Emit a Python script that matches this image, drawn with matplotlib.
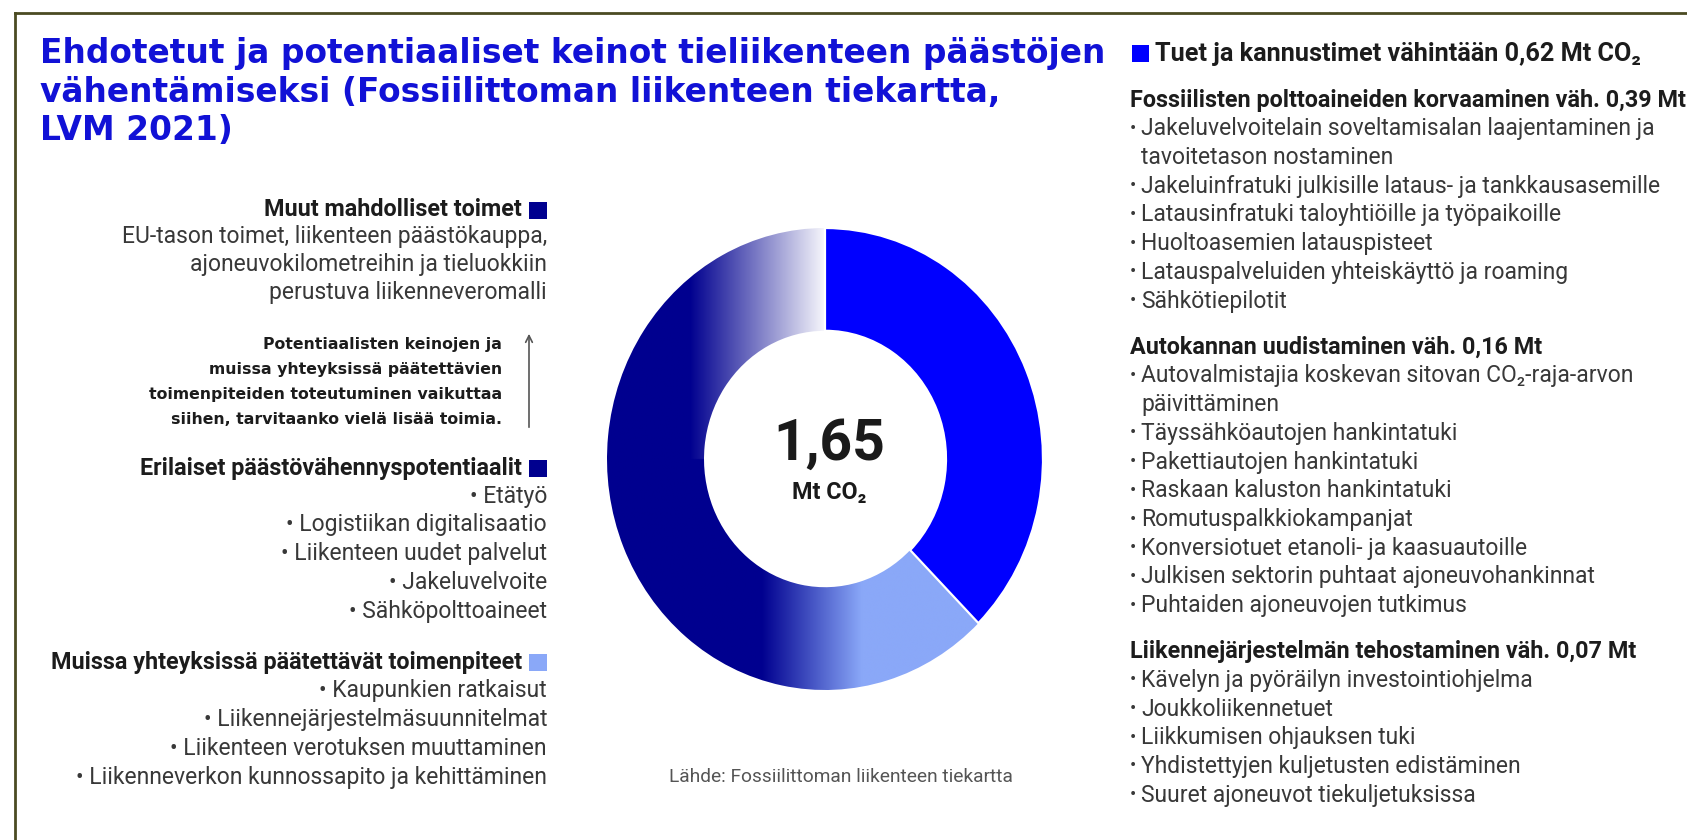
import matplotlib
matplotlib.use('Agg')
import matplotlib.pyplot as plt
import numpy as np
from matplotlib.lines import Line2D
from matplotlib.patches import Rectangle, FancyArrowPatch, Wedge

W, H, DPI = 1687, 840, 100

# ---------------- data ----------------
slice_labels = ['Tuet ja kannustimet', 'Muissa yhteyksissä päätettävät toimenpiteet',
                'Erilaiset päästövähennyspotentiaalit', 'Muut mahdolliset toimet']
slice_values = [0.62, 0.21, 0.74, 0.08]
slice_colors = ['#0000ff', '#8aa8f8', '#00008f', '#ffffff']
total_label = '1,65'
total_unit = 'Mt CO₂'

title_lines = ['Ehdotetut ja potentiaaliset keinot tieliikenteen päästöjen',
               'vähentämiseksi (Fossiilittoman liikenteen tiekartta,',
               'LVM 2021)']

right_header = 'Tuet ja kannustimet vähintään 0,62 Mt CO₂'
right_groups = [
    ('Fossiilisten polttoaineiden korvaaminen väh. 0,39 Mt', [
        ['Jakeluvelvoitelain soveltamisalan laajentaminen ja', 'tavoitetason nostaminen'],
        ['Jakeluinfratuki julkisille lataus- ja tankkausasemille'],
        ['Latausinfratuki taloyhtiöille ja työpaikoille'],
        ['Huoltoasemien latauspisteet'],
        ['Latauspalveluiden yhteiskäyttö ja roaming'],
        ['Sähkötiepilotit']]),
    ('Autokannan uudistaminen väh. 0,16 Mt', [
        ['Autovalmistajia koskevan sitovan CO₂-raja-arvon', 'päivittäminen'],
        ['Täyssähköautojen hankintatuki'],
        ['Pakettiautojen hankintatuki'],
        ['Raskaan kaluston hankintatuki'],
        ['Romutuspalkkiokampanjat'],
        ['Konversiotuet etanoli- ja kaasuautoille'],
        ['Julkisen sektorin puhtaat ajoneuvohankinnat'],
        ['Puhtaiden ajoneuvojen tutkimus']]),
    ('Liikennejärjestelmän tehostaminen väh. 0,07 Mt', [
        ['Kävelyn ja pyöräilyn investointiohjelma'],
        ['Joukkoliikennetuet'],
        ['Liikkumisen ohjauksen tuki'],
        ['Yhdistettyjen kuljetusten edistäminen'],
        ['Suuret ajoneuvot tiekuljetuksissa']]),
]

muut_header = 'Muut mahdolliset toimet'
muut_lines = ['EU-tason toimet, liikenteen päästökauppa,',
              'ajoneuvokilometreihin ja tieluokkiin',
              'perustuva liikenneveromalli']
note_lines = ['Potentiaalisten keinojen ja',
              'muissa yhteyksissä päätettävien',
              'toimenpiteiden toteutuminen vaikuttaa',
              'siihen, tarvitaanko vielä lisää toimia.']
erilaiset_header = 'Erilaiset päästövähennyspotentiaalit'
erilaiset_items = ['Etätyö', 'Logistiikan digitalisaatio', 'Liikenteen uudet palvelut',
                   'Jakeluvelvoite', 'Sähköpolttoaineet']
muissa_header = 'Muissa yhteyksissä päätettävät toimenpiteet'
muissa_items = ['Kaupunkien ratkaisut', 'Liikennejärjestelmäsuunnitelmat',
                'Liikenteen verotuksen muuttaminen', 'Liikenneverkon kunnossapito ja kehittäminen']
source_text = 'Lähde: Fossiilittoman liikenteen tiekartta'

# ---------------- style ----------------
FONT = ['Roboto', 'DejaVu Sans']
BODY = '#383838'
HEAD = '#1c1c1c'
BODY_FS = 16.5
HEAD_FS = 16.8

fig = plt.figure(figsize=(W / DPI, H / DPI), dpi=DPI)
fig.patch.set_facecolor('white')


def P(x, y):
    return x / W, 1 - y / H


def txt(x, y, s, **kw):
    kw.setdefault('family', FONT)
    kw.setdefault('va', 'center')
    fig.text(*P(x, y), s, **kw)


def square(x0, y0, x1, y1, color):
    fig.add_artist(Rectangle(P(x0, y1), (x1 - x0) / W, (y1 - y0) / H,
                             transform=fig.transFigure, color=color, lw=0))

# border
fig.add_artist(Line2D([15 / W, 1], [1 - 13 / H, 1 - 13 / H], transform=fig.transFigure,
                      color='#4b4b22', lw=2))
fig.add_artist(Line2D([15 / W, 15 / W], [0, 1 - 13 / H], transform=fig.transFigure,
                      color='#4b4b22', lw=2))

# title
for i, line in enumerate(title_lines):
    txt(40, 54 + i * 38.5, line, family=['DejaVu Sans'], fontsize=23.7,
        fontweight='bold', color='#1111d6')

# ---------------- donut ----------------
cx, cy, rx, ry, lim = 825, 459, 218, 231, 1.1
ring = 0.445
ax = fig.add_axes([(cx - lim * rx) / W, (H - cy - lim * ry) / H,
                   2 * lim * rx / W, 2 * lim * ry / H])
wedges, _ = ax.pie(slice_values, colors=slice_colors, startangle=90, counterclock=False,
                   radius=1, wedgeprops=dict(width=ring, edgecolor='white', linewidth=1.6))
ax.set_aspect('auto')
ax.axis('off')

# gradient fill for the non-"Tuet" part of the ring (one clip region, no seams)
for w in wedges[1:]:
    w.set_facecolor('none')
    w.set_edgecolor('none')
    w.set_linewidth(0)
t_start = min(w.theta1 for w in wedges[1:])
t_end = max(w.theta2 for w in wedges[1:])
clip = Wedge((0, 0), 1, t_start, t_end, width=ring, transform=ax.transData,
             facecolor='none', edgecolor='none')
ax.add_patch(clip)

n = 800
X, Y = np.meshgrid(np.linspace(-1, 1, n), np.linspace(-1, 1, n))
navy = np.array([0, 0, 143]) / 255
light = np.array([138, 168, 248]) / 255
white = np.array([1.0, 1.0, 1.0])
t_lo = np.clip((X + 0.29) / (0.17 + 0.29), 0, 1)[..., None]
t_up = np.clip((X + 0.62) / (0.02 + 0.62), 0, 1)[..., None]
lo = navy * (1 - t_lo) + light * t_lo
up = navy * (1 - t_up) + white * t_up
img = np.where(Y[..., None] < 0, lo, up)
im = ax.imshow(img, extent=(-1, 1, -1, 1), origin='lower', aspect='auto',
               zorder=0.5, interpolation='bilinear')
im.set_clip_path(clip)
wedges[0].set_zorder(2)
ax.set_xlim(-lim, lim)
ax.set_ylim(-lim, lim)

ax.text(0.02, 0.065, total_label, ha='center', va='center', family=FONT,
        fontsize=41, fontweight='bold', color='#1a1a1a')
ax.text(0.02, -0.143, total_unit, ha='center', va='center', family=FONT,
        fontsize=16.8, fontweight='bold', color='#1a1a1a')

# ---------------- right column ----------------
square(1132, 45, 1149, 62, '#0000ff')
txt(1155, 54, right_header, fontsize=18.2, fontweight='bold', color=HEAD)

step = 28.75
y = 100
for head, items in right_groups:
    txt(1130, y, head, fontsize=HEAD_FS, fontweight='bold', color=HEAD)
    for item in items:
        for j, line in enumerate(item):
            y += step
            if j == 0:
                txt(1130, y, '•', fontsize=BODY_FS - 3, color=BODY)
            txt(1141, y, line, fontsize=BODY_FS, color=BODY)
    y += step + 17

# ---------------- left column ----------------
RX = 547
square(529, 202, 547, 219, '#00008f')
txt(522, 210, muut_header, fontsize=HEAD_FS, fontweight='bold', color=HEAD, ha='right')
for i, line in enumerate(muut_lines):
    txt(RX, 237 + i * 28, line, fontsize=BODY_FS, color=BODY, ha='right')

for i, line in enumerate(note_lines):
    txt(502, 344 + i * 25.3, line, family=['DejaVu Sans'], fontsize=11.3,
        fontweight='bold', color=HEAD, ha='right')
fig.add_artist(FancyArrowPatch(P(529, 430), P(529, 331), transform=fig.transFigure,
                               arrowstyle='->', mutation_scale=12, color='#555555', lw=1.2))

square(529, 460, 547, 477, '#00008f')
txt(522, 468, erilaiset_header, fontsize=HEAD_FS, fontweight='bold', color=HEAD, ha='right')
for i, line in enumerate(erilaiset_items):
    txt(RX, 496 + i * 28.8, '• ' + line, fontsize=BODY_FS, color=BODY, ha='right')

square(529, 654, 547, 671, '#8aa8f8')
txt(522, 662, muissa_header, fontsize=HEAD_FS, fontweight='bold', color=HEAD, ha='right')
for i, line in enumerate(muissa_items):
    txt(RX, 691 + i * 28.7, '• ' + line, fontsize=BODY_FS, color=BODY, ha='right')

txt(669, 777, source_text, fontsize=13.8, color='#555555')

fig.savefig('out.png', dpi=DPI, facecolor='white')
